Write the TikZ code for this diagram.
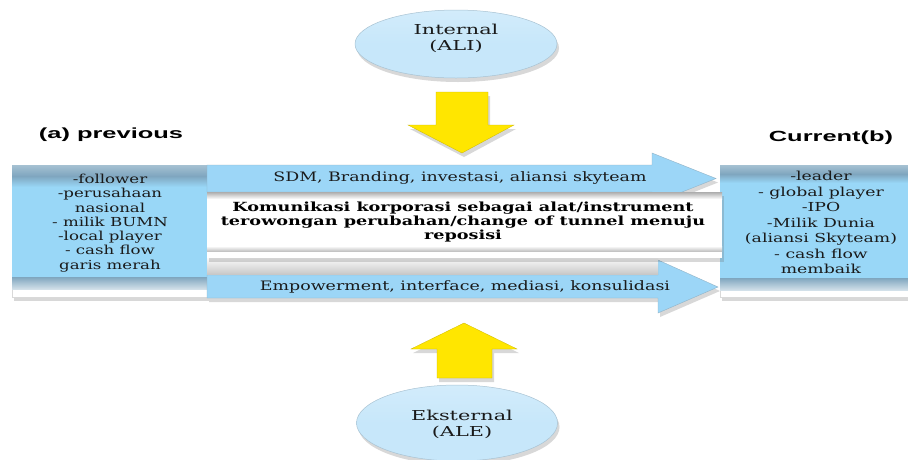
\documentclass[tikz,border=0pt]{standalone}
\usepackage{fontspec}
\setmainfont{DejaVu Serif}
\newfontfamily\labelfont{Liberation Sans}
\usetikzlibrary{shadows,shapes.geometric}

\definecolor{boxblue}{HTML}{99D7F7}
\definecolor{arrowblue}{HTML}{9CD6F7}
\definecolor{bandblue}{HTML}{7FA6BF}
\definecolor{ellblue}{HTML}{C7E7FA}
\definecolor{ellline}{HTML}{A9C3D3}
\definecolor{arrowyellow}{HTML}{FFE600}
\definecolor{txt}{HTML}{1A1A1A}

\tikzset{
  softshadow/.style={drop shadow={shadow xshift=2pt,shadow yshift=-4pt,opacity=0.25,fill=black!60}},
  bluearrow/.style={fill=arrowblue,draw=arrowblue!75!black!80,line width=0.4pt,softshadow},
  yellowarrow/.style={fill=arrowyellow,draw=arrowyellow!80!black,line width=0.3pt,softshadow},
  sidebox/.style={fill=white,draw=black!15,line width=0.4pt,softshadow},
  oval/.style={ellipse,draw=ellline,line width=0.5pt,top color=ellblue!80!white,bottom color=ellblue,middle color=ellblue,softshadow},
  bodytext/.style={font=\fontsize{12.4}{14.3}\selectfont,text=txt,align=center,xscale=1.34,transform shape},
  arrowtext/.style={font=\fontsize{13}{16}\selectfont,text=txt,xscale=1.34,transform shape},
  tunneltext/.style={font=\bfseries\fontsize{12.6}{14}\selectfont,align=center,text=black,xscale=1.4,transform shape},
  ovaltext/.style={font=\fontsize{13.7}{16}\selectfont,text=txt,align=center,xscale=1.52,transform shape},
  headtext/.style={font=\labelfont\bfseries\fontsize{14.7}{16}\selectfont,text=black,xscale=1.73,transform shape}
}

\begin{document}
\begin{tikzpicture}[x=1pt,y=-1pt]
\useasboundingbox[fill=white] (0,0) rectangle (908,459);

% left box (previous state)
\node[sidebox,minimum width=195pt,minimum height=132pt,inner sep=0pt] (prev) at (109.5,231) {};
\shade[top color=bandblue!70!white,bottom color=bandblue] (12,165) rectangle (207,176);
\shade[top color=bandblue,bottom color=boxblue] (12,176) rectangle (207,187);
\fill[boxblue] (12,187) rectangle (207,277);
\shade[top color=bandblue,bottom color=bandblue!35!white] (12,277) rectangle (207,289);

% right box (current state)
\node[sidebox,minimum width=195pt,minimum height=132pt,inner sep=0pt] (curr) at (817.5,231) {};
\shade[top color=bandblue!70!white,bottom color=bandblue] (720,165) rectangle (915,174);
\shade[top color=bandblue,bottom color=boxblue] (720,174) rectangle (915,183);
\fill[boxblue] (720,183) rectangle (915,278);
\shade[top color=bandblue,bottom color=bandblue!35!white] (720,278) rectangle (915,290);

% horizontal blue arrows
\path[bluearrow] (207,165) -- (652,165) -- (652,153) -- (716,178.5)
  -- (652,204) -- (652,192) -- (207,192) -- cycle;
\path[bluearrow] (207,275) -- (658,275) -- (658,260) -- (718,287)
  -- (658,313) -- (658,298) -- (207,298) -- cycle;

% tunnel band between the arrows
\shade[top color=white,bottom color=black!22] (207,256) rectangle (658,274.5);
\node[fill=white,minimum width=515pt,minimum height=66pt,inner sep=0pt,softshadow] (tunnel) at (464.5,225) {};
\shade[top color=black!30,bottom color=white] (207,192.5) rectangle (722,199);
\shade[top color=white,bottom color=black!28] (207,246) rectangle (722,252);
\fill[white] (207,252) rectangle (722,256);

% ovals
\node[oval,minimum width=202pt,minimum height=68pt] (ali) at (456,44) {};
\node[oval,minimum width=201pt,minimum height=76pt] (ale) at (457,423) {};

% yellow arrows
\path[yellowarrow] (436,92) -- (488,92) -- (488,125) -- (514,125) -- (462,153)
  -- (408,125) -- (436,125) -- cycle;
\path[yellowarrow] (437,378) -- (492,378) -- (492,349) -- (517,349) -- (464,323)
  -- (411,349) -- (437,349) -- cycle;

% texts
\node[ovaltext] (alitxt) at (456,38.5) {Internal\\(ALI)};
\node[ovaltext] (aletxt) at (462,424) {Eksternal\\(ALE)};
\node[arrowtext] (sdm) at (460,178) {SDM, Branding, investasi, aliansi skyteam};
\node[arrowtext] (emp) at (465,287) {Empowerment, interface, mediasi, konsulidasi};
\node[tunneltext] (kom) at (463,222) {Komunikasi korporasi sebagai alat/instrument\\terowongan perubahan/change of tunnel menuju\\reposisi};
\node[bodytext] (prevtxt) at (110,223) {-follower\\-perusahaan\\nasional\\- milik BUMN\\-local player\\- cash flow\\garis merah};
\node[bodytext,font=\fontsize{12.4}{15.5}\selectfont,xscale=1.04] (currtxt) at (821,222.5) {-leader\\- global player\\-IPO\\-Milik Dunia\\(aliansi Skyteam)\\- cash flow\\membaik};
\node[headtext] (prevlbl) at (111,135) {(a) previous};
\node[headtext] (currlbl) at (831,138) {Current(b)};
\end{tikzpicture}
\end{document}
